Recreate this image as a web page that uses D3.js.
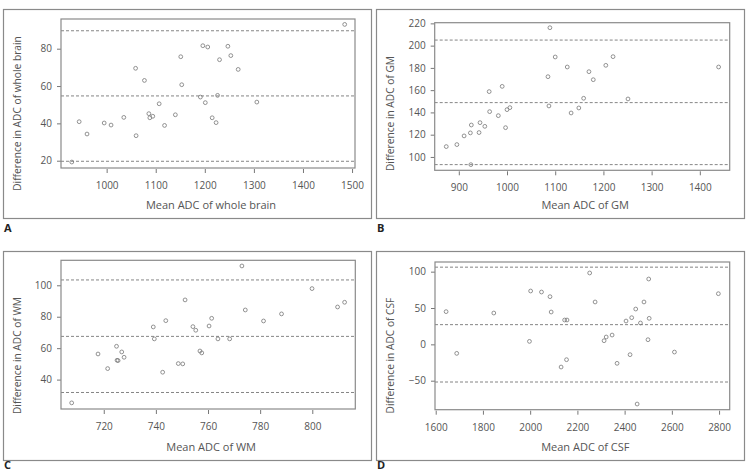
<!DOCTYPE html>
<html>
<head>
<meta charset="utf-8">
<script src="https://cdn.jsdelivr.net/npm/d3@7"></script>
<style>
  body { margin: 0; background: #fff; }
  svg { display: block; font-family: "Open Sans", "Noto Sans", sans-serif; }
  .tick text { fill: #555; }
</style>
</head>
<body>
<svg id="chart" width="746" height="471"></svg>
<script>
// A: whole brain
var wbMean = [929, 944, 960, 995, 1009, 1035, 1059, 1060, 1077, 1086, 1088, 1094, 1107, 1118, 1140,
  1151, 1153, 1191, 1196, 1201, 1206, 1215, 1223, 1226, 1230, 1247, 1253, 1268, 1306, 1485];
var wbDiff = [19.3, 40.9, 34.3, 40.2, 39.1, 43.2, 69.5, 33.4, 63, 45.2, 43, 43.8, 50.5, 38.9, 44.6,
  75.7, 60.7, 54.1, 81.6, 51.1, 80.9, 43, 40.4, 55, 74.1, 81.3, 76.3, 68.9, 51.4, 93];
var wbLines = [89.6, 54.7, 19.7];
var wbXTicks = [1000, 1100, 1200, 1300, 1400, 1500];
var wbYTicks = [20, 40, 60, 80];

// B: GM
var gmMean = [874, 896, 911, 924, 926, 925, 942, 944, 954, 963, 964, 982, 990, 997, 1000, 1006,
  1085, 1087, 1089, 1100, 1125, 1133, 1149, 1159, 1170, 1179, 1205, 1220, 1251, 1439];
var gmDiff = [109.3, 111.1, 118.9, 121.6, 128.7, 93.1, 121.9, 130.8, 127.5, 158.7, 140.7, 137.1, 163.4, 126.3, 142.5, 144.3,
  172.1, 145.8, 216.1, 189.8, 180.8, 139.5, 144, 152.7, 176.6, 169.4, 182.3, 190.1, 152.1, 180.8];
var gmLines = [205, 148.8, 93.1];
var gmXTicks = [900, 1000, 1100, 1200, 1300, 1400];
var gmYTicks = [100, 120, 140, 160, 180, 200, 220];

// C: WM
var wmMean = [707.7, 717.8, 721.5, 724.9, 725.1, 725.5, 726.9, 727.8, 739, 739.4, 742.6, 743.8, 748.6, 750.3, 751.2,
  754.2, 755.3, 756.9, 757.6, 760.4, 761.4, 763.8, 768.3, 773, 774.3, 781.3, 788.2, 799.9, 809.7, 812.4];
var wmDiff = [25.2, 56.3, 47, 61.2, 52.3, 52.1, 57.6, 54.2, 73.5, 65.9, 44.7, 77.5, 50.2, 50, 90.7,
  73.7, 71.4, 58.2, 57, 74.1, 79, 65.9, 65.9, 112.3, 84.3, 77.3, 81.8, 97.9, 86.2, 89.2];
var wmLines = [103.4, 67.5, 31.8];
var wmXTicks = [720, 740, 760, 780, 800];
var wmYTicks = [40, 60, 80, 100];

// D: CSF
var csfMean = [1644, 1689, 1846, 1997, 2002, 2048, 2084, 2089, 2131, 2146, 2156, 2154, 2252, 2275, 2313,
  2322, 2347, 2368, 2406, 2423, 2430, 2447, 2453, 2467, 2482, 2499, 2502, 2504, 2611, 2797];
var csfDiff = [45, -12.4, 43.1, 4.1, 73.4, 72, 65.6, 44.5, -31.2, 33.5, 33.5, -21.1, 98.2, 58.3, 5,
  10.1, 12.8, -26.1, 32.1, -14.2, 36.7, 48.6, -82.1, 29.4, 58.3, 6.4, 89.9, 35.8, -10.6, 69.7];
var csfLines = [106.2, 27.1, -51.8];
var csfXTicks = [1600, 1800, 2000, 2200, 2400, 2600, 2800];
var csfYTicks = [-50, 0, 50, 100];

var svg = d3.select("#chart");
var tickFormat = d3.format("d");

function renderPanel(cfg) {
  var g = svg.append("g");
  let f = cfg.frame, p = cfg.plot;

  g.append("rect")
    .attr("x", f[0] + 0.5).attr("y", f[1] + 0.5)
    .attr("width", f[2] - f[0]).attr("height", f[3] - f[1])
    .attr("fill", "none").attr("stroke", "#8a8a8a").attr("stroke-width", 1.2);

  let x = d3.scaleLinear().domain(cfg.xDomain).range([p[0], p[2]]);
  let y = d3.scaleLinear().domain(cfg.yDomain).range([p[3], p[1]]);

  g.append("g")
    .attr("transform", `translate(0, ${p[3] + 1})`)
    .call(d3.axisBottom(x).tickValues(cfg.xTicks).tickFormat(tickFormat).tickSize(4).tickPadding(9))
    .attr("font-family", null).attr("font-size", 10)
    .call(a => a.select(".domain").remove())
    .selectAll("line").attr("stroke", "#777");

  g.append("g")
    .attr("transform", `translate(${p[0]}, 0)`)
    .call(d3.axisLeft(y).tickValues(cfg.yTicks).tickFormat(tickFormat).tickSize(4).tickPadding(5))
    .attr("font-family", null).attr("font-size", 10)
    .call(a => a.select(".domain").remove())
    .selectAll("line").attr("stroke", "#777");

  g.append("g")
    .selectAll("line")
    .data(cfg.lines)
    .join("line")
    .attr("x1", p[0]).attr("x2", p[2])
    .attr("y1", d => y(d)).attr("y2", d => y(d))
    .attr("stroke", "#777").attr("stroke-width", 0.9)
    .attr("stroke-dasharray", "3,2");

  g.append("g")
    .selectAll("circle")
    .data(cfg.xs)
    .join("circle")
    .attr("cx", d => x(d))
    .attr("cy", (d, i) => y(cfg.ys[i]))
    .attr("r", 1.9)
    .attr("fill", "none").attr("stroke", "#777").attr("stroke-width", 0.8);

  g.append("rect")
    .attr("x", p[0]).attr("y", p[1])
    .attr("width", p[2] - p[0]).attr("height", p[3] - p[1])
    .attr("fill", "none").attr("stroke", "#8a8a8a").attr("stroke-width", 1.2);

  g.append("text")
    .attr("x", (p[0] + p[2]) / 2 + 3).attr("y", f[1] + 200)
    .attr("text-anchor", "middle").attr("font-size", 11).attr("fill", "#555")
    .text(cfg.xLabel);

  // y label is centred on the whole frame, not on the plot box
  g.append("text")
    .attr("transform", `translate(${f[0] + 18}, ${(f[1] + f[3]) / 2}) rotate(-90)`)
    .attr("text-anchor", "middle").attr("font-size", 10.2).attr("fill", "#555")
    .text(cfg.yLabel);

  g.append("text")
    .attr("x", f[0] + 1).attr("y", Math.min(f[3] + 14, 469))
    .attr("font-size", 11).attr("font-weight", "bold").attr("fill", "#222")
    .text(cfg.letter);
}

renderPanel({
  letter: "A", frame: [3, 9, 371, 218], plot: [61, 19, 355, 168],
  xDomain: [907, 1506], yDomain: [16.1, 95.9],
  xTicks: wbXTicks, yTicks: wbYTicks, lines: wbLines, xs: wbMean, ys: wbDiff,
  xLabel: "Mean ADC of whole brain", yLabel: "Difference in ADC of whole brain"
});

renderPanel({
  letter: "B", frame: [376, 9, 744, 218], plot: [434.7, 22.7, 729.7, 170.3],
  xDomain: [850, 1462], yDomain: [88, 220.6],
  xTicks: gmXTicks, yTicks: gmYTicks, lines: gmLines, xs: gmMean, ys: gmDiff,
  xLabel: "Mean ADC of GM", yLabel: "Difference in ADC of GM"
});

renderPanel({
  letter: "C", frame: [3, 251, 371, 460], plot: [61, 260.3, 355.3, 409],
  xDomain: [703.6, 816.5], yDomain: [21.3, 115.9],
  xTicks: wmXTicks, yTicks: wmYTicks, lines: wmLines, xs: wmMean, ys: wmDiff,
  xLabel: "Mean ADC of WM", yLabel: "Difference in ADC of WM"
});

renderPanel({
  letter: "D", frame: [376, 251, 744, 460], plot: [435, 262, 729.7, 409.7],
  xDomain: [1597, 2845], yDomain: [-89.9, 113.3],
  xTicks: csfXTicks, yTicks: csfYTicks, lines: csfLines, xs: csfMean, ys: csfDiff,
  xLabel: "Mean ADC of CSF", yLabel: "Difference in ADC of CSF"
});
</script>
</body>
</html>
